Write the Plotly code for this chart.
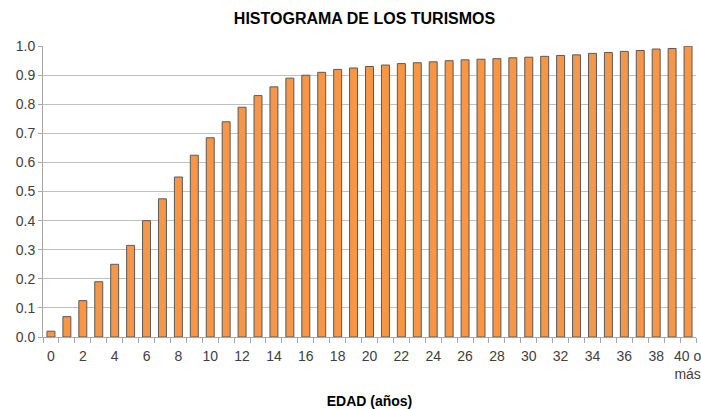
import plotly.graph_objects as go

ages = list(range(41))
age_labels = [str(a) for a in range(40)] + ["40 o<br>más"]
freq_acum = [0.02, 0.07, 0.125, 0.19, 0.25, 0.315, 0.40, 0.475, 0.55, 0.625,
             0.685, 0.74, 0.79, 0.83, 0.86, 0.89, 0.90, 0.91, 0.92, 0.925,
             0.93, 0.935, 0.94, 0.943, 0.946, 0.95, 0.953, 0.955, 0.957, 0.96,
             0.962, 0.965, 0.968, 0.97, 0.975, 0.978, 0.982, 0.985, 0.99, 0.992,
             1.0]
y_ticks = [i / 10 for i in range(11)]

fig = go.Figure()
fig.add_trace(go.Bar(
    x=ages, y=freq_acum, width=0.5,
    marker=dict(color="#F79646", line=dict(color="#595959", width=1)),
))

tick_idx = [i for i in ages[:-1] if i % 2 == 0]
last = ages[-1]
fig.add_annotation(
    x=last, xref="x", y=0, yref="paper", yanchor="top", xanchor="center",
    yshift=-9, xshift=-1, text=age_labels[last], showarrow=False,
    font=dict(size=14, color="#404040"), align="center",
)

fig.update_layout(
    width=701, height=409,
    margin=dict(l=43, r=5, t=46, b=72),
    paper_bgcolor="white", plot_bgcolor="white",
    showlegend=False,
    font=dict(family="Liberation Sans, Arial, sans-serif", size=14, color="#404040"),
    title=dict(text="<b>HISTOGRAMA DE LOS TURISMOS</b>", x=0.52, xanchor="center",
               y=0.955, yanchor="middle",
               font=dict(size=16, color="#000000")),
    xaxis=dict(
        range=[-0.5, 40.5], tickmode="array",
        tickvals=tick_idx, ticktext=[age_labels[i] for i in tick_idx],
        ticks="", showgrid=False, showline=True, linecolor="#A6A6A6", linewidth=1,
        minor=dict(tickmode="linear", tick0=-0.5, dtick=1, ticks="outside",
                   ticklen=5, tickcolor="#A6A6A6", showgrid=False),
        tickangle=0, automargin=False, ticklabelstandoff=6,
        title=dict(text="<b>EDAD (años)</b>", font=dict(size=14, color="#000000"),
                   standoff=35),
    ),
    yaxis=dict(
        range=[0, 1.0005], tickmode="array", tickvals=y_ticks,
        ticktext=[f"{v:.1f}" for v in y_ticks],
        showgrid=True, gridcolor="#BFBFBF", gridwidth=1,
        showline=True, linecolor="#A6A6A6", linewidth=1,
        ticks="outside", ticklen=4, tickcolor="#A6A6A6",
        zeroline=False, automargin=False,
    ),
)

fig.write_html("out.html", config={"displayModeBar": False},
               post_script="document.body.style.margin='0';")
